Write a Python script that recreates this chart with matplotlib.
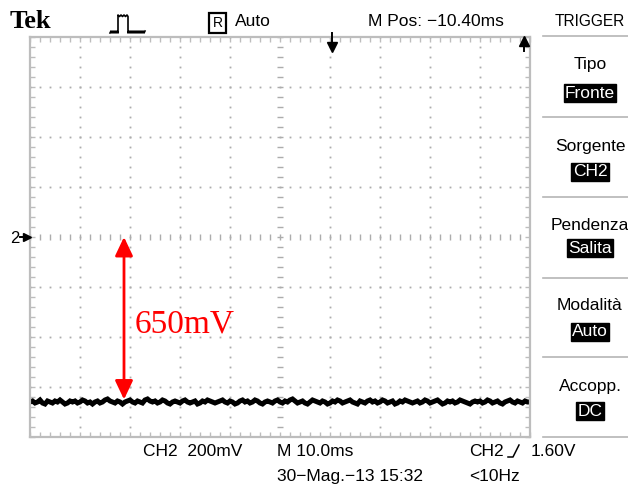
import numpy as np
import matplotlib
matplotlib.use("Agg")
import matplotlib.pyplot as plt
from matplotlib.patches import Rectangle
from matplotlib.lines import Line2D

# ---------------- data ----------------
time_div_ms = 10.0          # M 10.0ms
volt_div_v = 0.2            # CH2 200mV
n_hdiv, n_vdiv = 10, 8
# CH2 trace (mV) sampled every 0.5 ms over 100 ms
trace_mv = [-660, -656, -664, -660, -652, -664, -668, -656, -660, -664, -656, -660, -652, -660, -668, -664, -656, -660, -656, -664,
            -660, -652, -656, -664, -660, -668, -660, -656, -664, -660, -652, -648, -656, -660, -664, -656, -660, -668, -660, -656,
            -652, -660, -664, -656, -660, -664, -652, -648, -656, -660, -656, -664, -660, -652, -656, -664, -668, -660, -656, -660,
            -664, -656, -652, -660, -664, -660, -656, -668, -664, -656, -660, -652, -656, -660, -664, -660, -656, -652, -660, -664,
            -656, -660, -668, -664, -656, -652, -660, -656, -664, -660, -652, -656, -664, -668, -660, -656, -660, -664, -656, -652,
            -660, -664, -656, -660, -652, -648, -656, -664, -660, -656, -664, -668, -660, -652, -656, -660, -664, -656, -660, -668,
            -664, -656, -660, -652, -656, -664, -660, -656, -652, -660, -664, -668, -656, -660, -664, -656, -652, -660, -656, -664,
            -660, -652, -656, -664, -660, -656, -668, -664, -656, -660, -652, -656, -660, -664, -660, -656, -664, -660, -652, -656,
            -664, -660, -656, -652, -660, -668, -664, -656, -660, -656, -664, -660, -652, -656, -660, -664, -668, -660, -656, -660,
            -656, -664, -660, -652, -656, -664, -660, -656, -664, -668, -660, -656, -652, -660, -664, -656, -660, -664, -656, -660, -660]
arrow_time_ms = 18.8
measured_mv = 650
label_text = "650mV"
header_texts = ["Auto", "M Pos: \u221210.40ms", "TRIGGER"]
menu_titles = ["Tipo", "Sorgente", "Pendenza", "Modalit\u00e0", "Accopp."]
menu_values = ["Fronte", "CH2", "Salita", "Auto", "DC"]
footer_row1 = ["CH2  200mV", "M 10.0ms", "CH2", "1.60V"]
footer_row2 = ["30\u2212Mag.\u221213 15:32", "<10Hz"]

# ---------------- figure ----------------
W, H = 628, 486
fig = plt.figure(figsize=(W / 100, H / 100), dpi=100)
fig.patch.set_facecolor("white")

L, R, T, B = 30, 530, 37, 437
ax = fig.add_axes([L / W, 1 - B / H, (R - L) / W, (B - T) / H])
xmax = n_hdiv * time_div_ms
ymax = n_vdiv / 2 * volt_div_v
ax.set_xlim(0, xmax)
ax.set_ylim(-ymax, ymax)

gcol = "#bdbdbd"
for s in ax.spines.values():
    s.set_color(gcol)
    s.set_linewidth(1.6)
ax.set_xticks(np.arange(0, xmax + 0.01, time_div_ms))
ax.set_yticks(np.arange(-ymax, ymax + 0.001, volt_div_v))
ax.set_xticks(np.arange(0, xmax + 0.01, time_div_ms / 5), minor=True)
ax.set_yticks(np.arange(-ymax, ymax + 0.001, volt_div_v / 5), minor=True)
ax.tick_params(which="both", direction="in", length=3.4, width=1.0, color=gcol,
               top=True, right=True, labelbottom=False, labelleft=False)

# dotted graticule
dcol = "#acacac"
for k in range(1, n_hdiv):
    xv = k * time_div_ms
    ys = np.arange(-ymax, ymax + 0.001, volt_div_v / 5)
    if k == n_hdiv // 2:
        ax.plot(np.full_like(ys, xv), ys, ls="none", marker="_", ms=5, mew=1.0, color=dcol)
    else:
        ax.plot(np.full_like(ys, xv), ys, ls="none", marker="s", ms=1.3, mew=0, color=dcol)
for k in range(1, n_vdiv):
    yv = -ymax + k * volt_div_v
    xs = np.arange(0, xmax + 0.01, time_div_ms / 5)
    if k == n_vdiv // 2:
        ax.plot(xs, np.full_like(xs, yv), ls="none", marker="|", ms=5, mew=1.0, color=dcol)
    else:
        ax.plot(xs, np.full_like(xs, yv), ls="none", marker="s", ms=1.3, mew=0, color=dcol)

# trace
t = np.arange(len(trace_mv)) * (xmax / (len(trace_mv) - 1))
ax.plot(t, np.array(trace_mv) / 1000.0, color="black", lw=3.6, solid_joinstyle="miter")

# measurement arrow
ax.annotate("", xy=(arrow_time_ms, 0), xytext=(arrow_time_ms, -measured_mv / 1000.0),
            arrowprops=dict(arrowstyle="<|-|>,head_length=0.95,head_width=0.45",
                            mutation_scale=12, color="red", lw=2, shrinkA=0, shrinkB=0))
ax.text(arrow_time_ms + 2.2, -0.35, label_text, color="red", fontsize=24,
        family="Liberation Serif", va="center", ha="left")

# ---------------- helpers ----------------
def px(x, y):
    return x / W, 1 - y / H

SANS = ["Liberation Sans", "DejaVu Sans"]
FS = 12.5

def ftext(x, y, s, ha="left", **kw):
    kw.setdefault("fontsize", FS)
    kw.setdefault("family", SANS)
    fig.text(*px(x, y), s, ha=ha, va="center", **kw)

def fline(xs, ys, **kw):
    fig.add_artist(Line2D([x / W for x in xs], [1 - y / H for y in ys],
                          transform=fig.transFigure, **kw))

# header
fig.text(*px(10, 21), "Tek", fontsize=19, family="Liberation Serif",
         fontweight="bold", va="center", ha="left")
# pulse icon
pxs = [110, 111, 112, 113, 114, 115, 116, 117, 118, 118, 119.5, 121, 122.5, 124, 125.5, 127, 128,
       128, 129, 130, 131, 132, 133, 134, 135, 136, 137, 138, 139, 140, 141, 142, 143, 144, 145]
pys = [33, 31, 33, 31, 33, 31, 33, 31, 33, 15, 16.5, 15, 16.5, 15, 16.5, 15, 16.5,
       33, 31, 33, 31, 33, 31, 33, 31, 33, 31, 33, 31, 33, 31, 33, 31, 33, 31]
fline(pxs, pys, color="black", lw=1.2)
fig.add_artist(Rectangle(px(209, 33), 17 / W, 20 / H, fill=False, lw=1.6,
                         edgecolor="black", transform=fig.transFigure))
ftext(217.5, 23, "R", ha="center", fontsize=10)
ftext(235, 21, header_texts[0])
ftext(368, 21, header_texts[1])
ftext(625, 21, header_texts[2], ha="right", fontsize=11.2)

# markers
ftext(15, 238, "2", ha="center", fontsize=12)
fline([20, 25], [237, 237], color="black", lw=1.4)
fline([27], [237], marker=">", ms=5.5, color="black")
# top arrows
fline([332, 332], [33, 45], color="black", lw=1.4)
fline([332], [47], marker="v", ms=7, color="black")
fline([524, 524], [41, 51], color="black", lw=1.4)
fline([524], [41], marker="^", ms=7, color="black")

# right menu
for yy in [36, 117, 197, 278, 357, 437]:
    fline([543, W], [yy, yy], color="#b5b5b5", lw=1.2)
title_y = [65, 146, 226, 305, 386]
value_y = [93, 172, 248, 332, 411]
for ttl, val, ty, vy in zip(menu_titles, menu_values, title_y, value_y):
    ftext(590, ty, ttl, ha="center")
    fig.text(*px(590, vy), val, ha="center", va="center", fontsize=FS, family=SANS,
             color="white",
             bbox=dict(boxstyle="square,pad=0.08", facecolor="black", edgecolor="black"))

# footer
ftext(143, 451, footer_row1[0])
ftext(277, 451, footer_row1[1])
ftext(469, 451, footer_row1[2])
fline([508, 513, 519], [457, 457, 445], color="black", lw=1.1)
ftext(531, 451, footer_row1[3])
ftext(277, 476, footer_row2[0])
ftext(469, 476, footer_row2[1])

fig.savefig("out.png", dpi=100, facecolor="white")
